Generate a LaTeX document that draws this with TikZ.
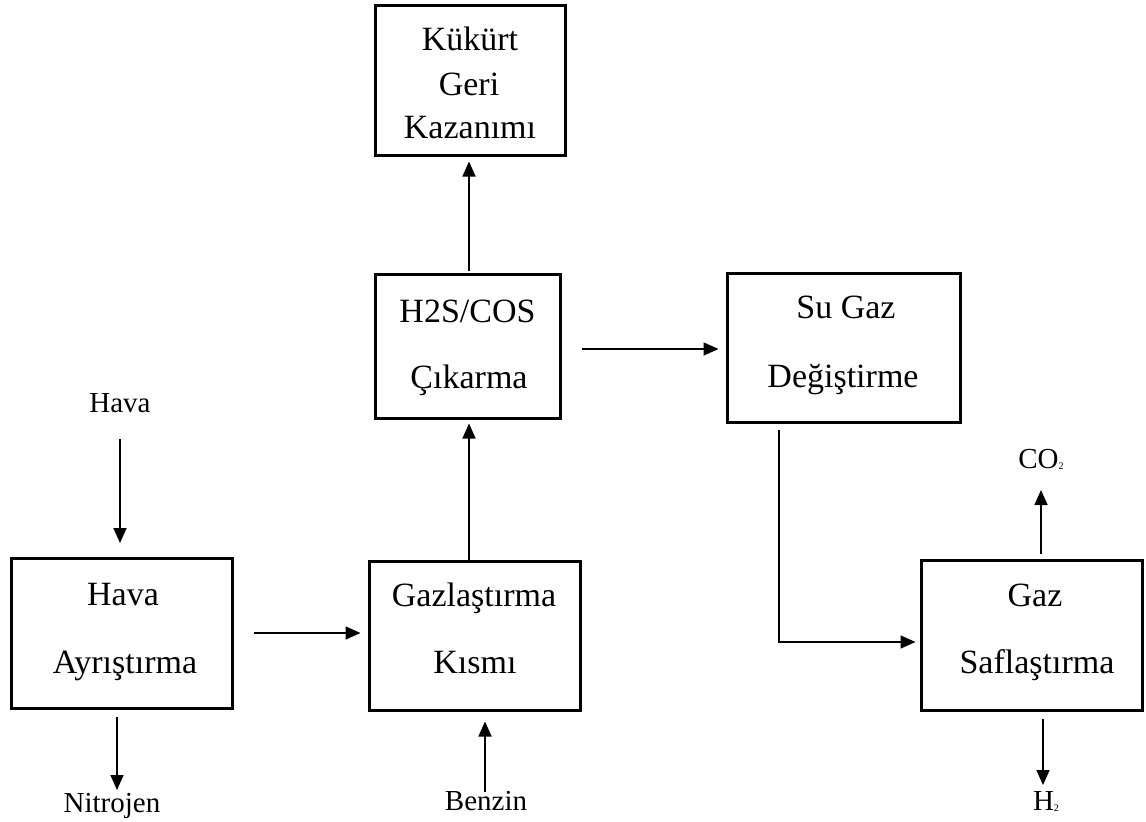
\documentclass[tikz,border=0pt]{standalone}
\usepackage{fontspec}
\setmainfont{Liberation Serif}
\usetikzlibrary{arrows.meta}
\tikzset{
  procbox/.style={draw, line width=3pt, rectangle, inner sep=0pt},
  boxtxt/.style={anchor=base, inner sep=0pt, font=\fontsize{34}{40}\selectfont},
  lbltxt/.style={anchor=base, inner sep=0pt, font=\fontsize{29}{34}\selectfont},
  arr/.style={line width=1.6pt, -{Triangle[length=15pt,width=13pt]}},
}
\newcommand{\smallsub}[1]{{\fontsize{10}{10}\selectfont\raisebox{-1pt}{#1}}}
\begin{document}
\begin{tikzpicture}[x=1pt,y=-1pt]
\useasboundingbox (0,0) rectangle (1146,822);
% boxes
\node[procbox, minimum width=190pt, minimum height=150pt] (kuk) at (470,80) {};
\node[procbox, minimum width=185pt, minimum height=144pt] (h2s) at (467.5,346) {};
\node[procbox, minimum width=233pt, minimum height=149pt] (su) at (843.5,347.5) {};
\node[procbox, minimum width=221pt, minimum height=150pt] (hava) at (121.5,633) {};
\node[procbox, minimum width=211pt, minimum height=149pt] (gaz) at (474.5,635.5) {};
\node[procbox, minimum width=221pt, minimum height=150pt] (saf) at (1031.5,635) {};
% box texts
\node[boxtxt] (kuk1) at (470,50) {Kükürt};
\node[boxtxt] (kuk2) at (469,95) {Geri};
\node[boxtxt] (kuk3) at (470,138) {Kazanımı};
\node[boxtxt] (h2s1) at (467.5,322) {H2S/COS};
\node[boxtxt] (h2s2) at (469,388) {Çıkarma};
\node[boxtxt] (su1) at (846,318) {Su Gaz};
\node[boxtxt] (su2) at (843,387) {Değiştirme};
\node[boxtxt] (hava1) at (123,605) {Hava};
\node[boxtxt] (hava2) at (125,673) {Ayrıştırma};
\node[boxtxt] (gaz1) at (474,606) {Gazlaştırma};
\node[boxtxt] (gaz2) at (475,673) {Kısmı};
\node[boxtxt] (saf1) at (1035,606) {Gaz};
\node[boxtxt] (saf2) at (1037,673) {Saflaştırma};
% labels
\node[lbltxt] (lhava) at (120,412) {Hava};
\node[lbltxt] (lnit) at (112,812) {Nitrojen};
\node[lbltxt] (lben) at (486,810) {Benzin};
\node[lbltxt] (lco2) at (1041,468) {CO\smallsub{2}};
\node[lbltxt] (lh2) at (1046,810) {H\smallsub{2}};
% helper coordinates
\coordinate (havatail) at (120,439);
\coordinate (havatip) at (120,543);
\coordinate (nittip) at (117,790);
\coordinate (bentail) at (485,792);
\coordinate (vx) at (469,0);
\coordinate (hy) at (0,349);
\coordinate (sx) at (779,0);
\coordinate (sy) at (0,642);
\coordinate (co2tip) at (1041,490);
\coordinate (h2tip) at (1043,785);
% connectors
\draw[arr] (havatail) -- (havatip);
\draw[arr] ([yshift=-7pt]hava.south -| nittip) -- (nittip);
\draw[arr] (bentail) -- ([yshift=-10pt]gaz.south -| bentail);
\draw[arr] ([xshift=20pt]hava.east) -- ([xshift=-7pt]gaz.west |- hava.east);
\draw[arr] (vx |- gaz.north) -- ([yshift=-4pt]vx |- h2s.south);
\draw[arr] ([yshift=2pt]vx |- h2s.north) -- ([yshift=-5pt]vx |- kuk.south);
\draw[arr] ([xshift=20pt]h2s.east |- hy) -- ([xshift=-7pt]su.west |- hy);
\draw[arr] ([yshift=-6pt]sx |- su.south) |- ([xshift=-4pt]saf.west |- sy);
\draw[arr] ([yshift=5pt]co2tip |- saf.north) -- (co2tip);
\draw[arr] ([yshift=-7pt]h2tip |- saf.south) -- (h2tip);
\end{tikzpicture}
\end{document}
